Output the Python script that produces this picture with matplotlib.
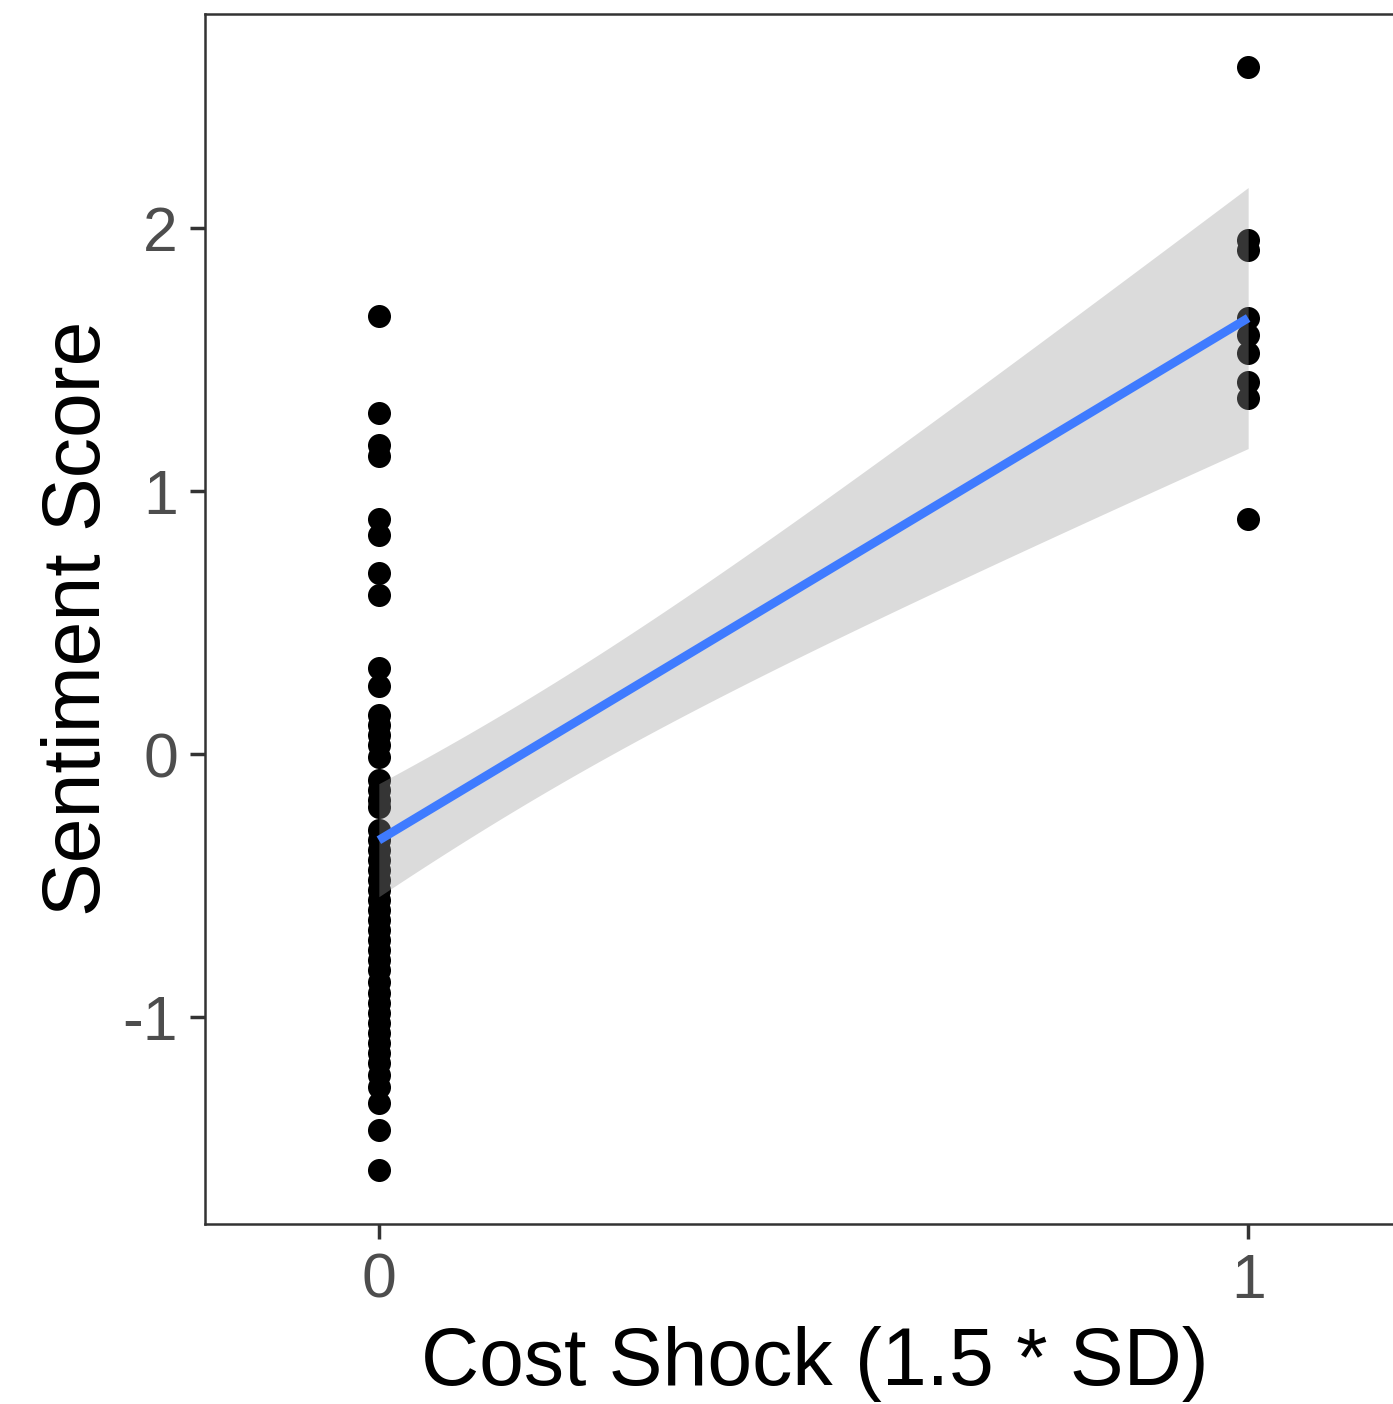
import numpy as np
import matplotlib
matplotlib.use("Agg")
import matplotlib.pyplot as plt

plt.rcParams['font.family'] = ['Liberation Sans', 'DejaVu Sans']

# ---- data ----
shock0 = [1.665, 1.297, 1.175, 1.133, 0.894, 0.833, 0.688, 0.605, 0.327, 0.259,
          0.148, 0.110, 0.072, 0.034, -0.011, -0.099, -0.137, -0.175, -0.200,
          -0.289, -0.327, -0.365, -0.403, -0.441, -0.479, -0.517, -0.555, -0.593,
          -0.631, -0.669, -0.707, -0.745, -0.783, -0.821, -0.867, -0.909, -0.947,
          -0.985, -1.023, -1.061, -1.099, -1.137, -1.175, -1.221, -1.266,
          -1.327, -1.430, -1.582]
shock1 = [2.612, 1.954, 1.915, 1.658, 1.593, 1.525, 1.414, 1.354, 0.894]
x_ticks = [0, 1]
y_ticks = [-1, 0, 1, 2]
x_label = "Cost Shock (1.5 * SD)"
y_label = "Sentiment Score"
t_crit = 2.004  # t quantile, df = n - 2

x = np.array([0] * len(shock0) + [1] * len(shock1), dtype=float)
y = np.array(shock0 + shock1, dtype=float)

# OLS fit with 95% confidence band
n = len(x)
xm = x.mean()
sxx = ((x - xm) ** 2).sum()
b1 = ((x - xm) * (y - y.mean())).sum() / sxx
b0 = y.mean() - b1 * xm
resid = y - (b0 + b1 * x)
sigma = np.sqrt((resid ** 2).sum() / (n - 2))
xg = np.linspace(0, 1, 80)
yg = b0 + b1 * xg
se = sigma * np.sqrt(1.0 / n + (xg - xm) ** 2 / sxx)

W, H = 1393, 1404
fig = plt.figure(figsize=(W / 100, H / 100), dpi=100)
left, right, top, bottom = 205, 1422, 14, 1224
ax = fig.add_axes([left / W, 1 - bottom / H, (right - left) / W, (bottom - top) / H])

ax.scatter(x, y, s=275, color='black', linewidths=0, zorder=2)
ax.fill_between(xg, yg - t_crit * se, yg + t_crit * se, color='#999999', alpha=0.35,
                linewidth=0, zorder=3)
ax.plot(xg, yg, color='#3F7BFF', linewidth=6.3, solid_capstyle='butt', zorder=4)

ax.set_xlim(-0.2, 1.2)
ax.set_ylim((754 - 1224) / 263, (754 - 14) / 263)
ax.set_xticks(x_ticks)
ax.set_xticklabels([str(v) for v in x_ticks])
ax.set_yticks(y_ticks)
ax.set_yticklabels([str(v) for v in y_ticks])

for s in ax.spines.values():
    s.set_color('#333333')
    s.set_linewidth(1.8)
ax.tick_params(axis='both', length=10.8, width=2.5, color='#333333',
               labelcolor='#4D4D4D', labelsize=45)
ax.tick_params(axis='y', pad=8.6)
ax.tick_params(axis='x', pad=9)

fig.text(815 / W, 1 - 1385 / H, x_label, ha='center', va='baseline', fontsize=58,
         color='black')
fig.text(100 / W, 1 - 618 / H, y_label, ha='center', va='baseline', fontsize=58,
         color='black', rotation=90, rotation_mode='anchor')

fig.savefig('out.png', dpi=100)
